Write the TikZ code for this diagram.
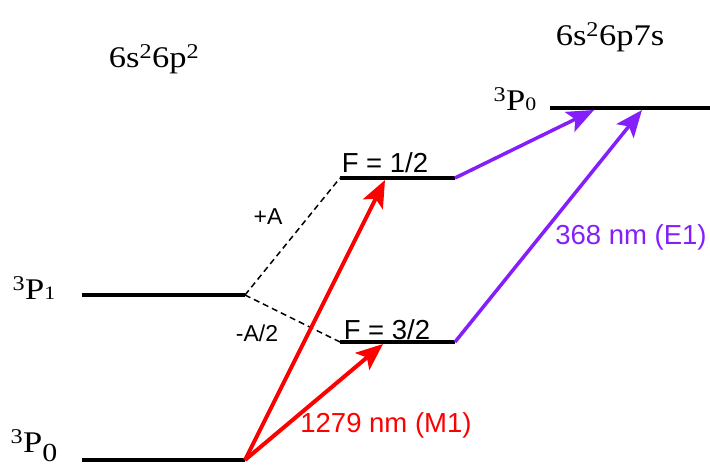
\documentclass[tikz,border=0pt]{standalone}
\usepackage{fontspec}
\setsansfont{Liberation Sans}
\newfontfamily\termfont[FakeStretch=1.15]{Liberation Serif}
\usetikzlibrary{arrows.meta}
\definecolor{mred}{RGB}{255,0,0}
\definecolor{eviolet}{RGB}{132,30,250}
\newcommand{\smallidx}[1]{{\fontsize{19}{19}\selectfont #1}}

\begin{document}
\begin{tikzpicture}[
    x=1pt, y=-1pt,
    level/.style={line width=4pt},
    split/.style={line width=1.5pt, dash pattern=on 6pt off 4pt},
    transition/.style={line width=4pt, -{Stealth[length=27pt,width=22pt,inset=6pt]}},
    term/.style={font=\termfont\fontsize{30}{36}\selectfont, inner sep=0pt},
    lbl/.style={font=\sffamily\fontsize{27.5}{33}\selectfont, inner sep=0pt},
    small lbl/.style={font=\sffamily\fontsize{23}{28}\selectfont, inner sep=0pt}
]
\useasboundingbox (0,0) rectangle (710,476);

% Define level end points
\coordinate (p0L) at (82,460);
\coordinate (p0R) at (245,460);
\coordinate (p1L) at (82,295);
\coordinate (p1R) at (245,295);
\coordinate (fhL) at (340,178);
\coordinate (fhR) at (455,178);
\coordinate (ftL) at (340,342);
\coordinate (ftR) at (455,342);
\coordinate (upL) at (550,108);
\coordinate (upR) at (710,108);
\coordinate (fhM) at (385,180);
\coordinate (ftM) at (383,344);
\coordinate (upA) at (594,110);
\coordinate (upB) at (642,110);

% Define labels
\node[term] (cfgL) at (154,59) {6s\textsuperscript{2}6p\textsuperscript{2}};
\node[term] (cfgR) at (610,37) {6s\textsuperscript{2}6p7s};
\node[term] (tUp) at (515,99) {\textsuperscript{3}P\smallidx{0}};
\node[term] (tP1) at (34,288) {\textsuperscript{3}P\smallidx{1}};
\node[term] (tP0) at (34,446) {\textsuperscript{3}P\raisebox{-9pt}{\fontsize{26}{26}\selectfont 0}};
\node[lbl] (fHalf) at (385,163) {F = 1/2};
\node[lbl] (fThree) at (387,330) {F = 3/2};
\node[small lbl] (plusA) at (268,217) {+A};
\node[small lbl] (minusA) at (257,333) {-A/2};
\node[lbl, text=mred] (mOne) at (386,425) {1279 nm (M1)};
\node[lbl, text=eviolet] (eOne) at (631,237) {368 nm (E1)};

% Define levels
\draw[level] (p0L) -- (p0R);
\draw[level] (p1L) -- (p1R);
\draw[level] (fhL) -- (fhR);
\draw[level] (ftL) -- (ftR);
\draw[level] (upL) -- (upR);

% Define hyperfine splitting
\draw[split] (p1R) -- (fhL);
\draw[split] (p1R) -- (ftL);

% Define transitions
\draw[transition, mred] (p0R) -- (fhM);
\draw[transition, mred] (p0R) -- (ftM);
\draw[transition, eviolet, line width=3.5pt] (fhR) -- (upA);
\draw[transition, eviolet, line width=3.5pt] (ftR) -- (upB);

\end{tikzpicture}
\end{document}
